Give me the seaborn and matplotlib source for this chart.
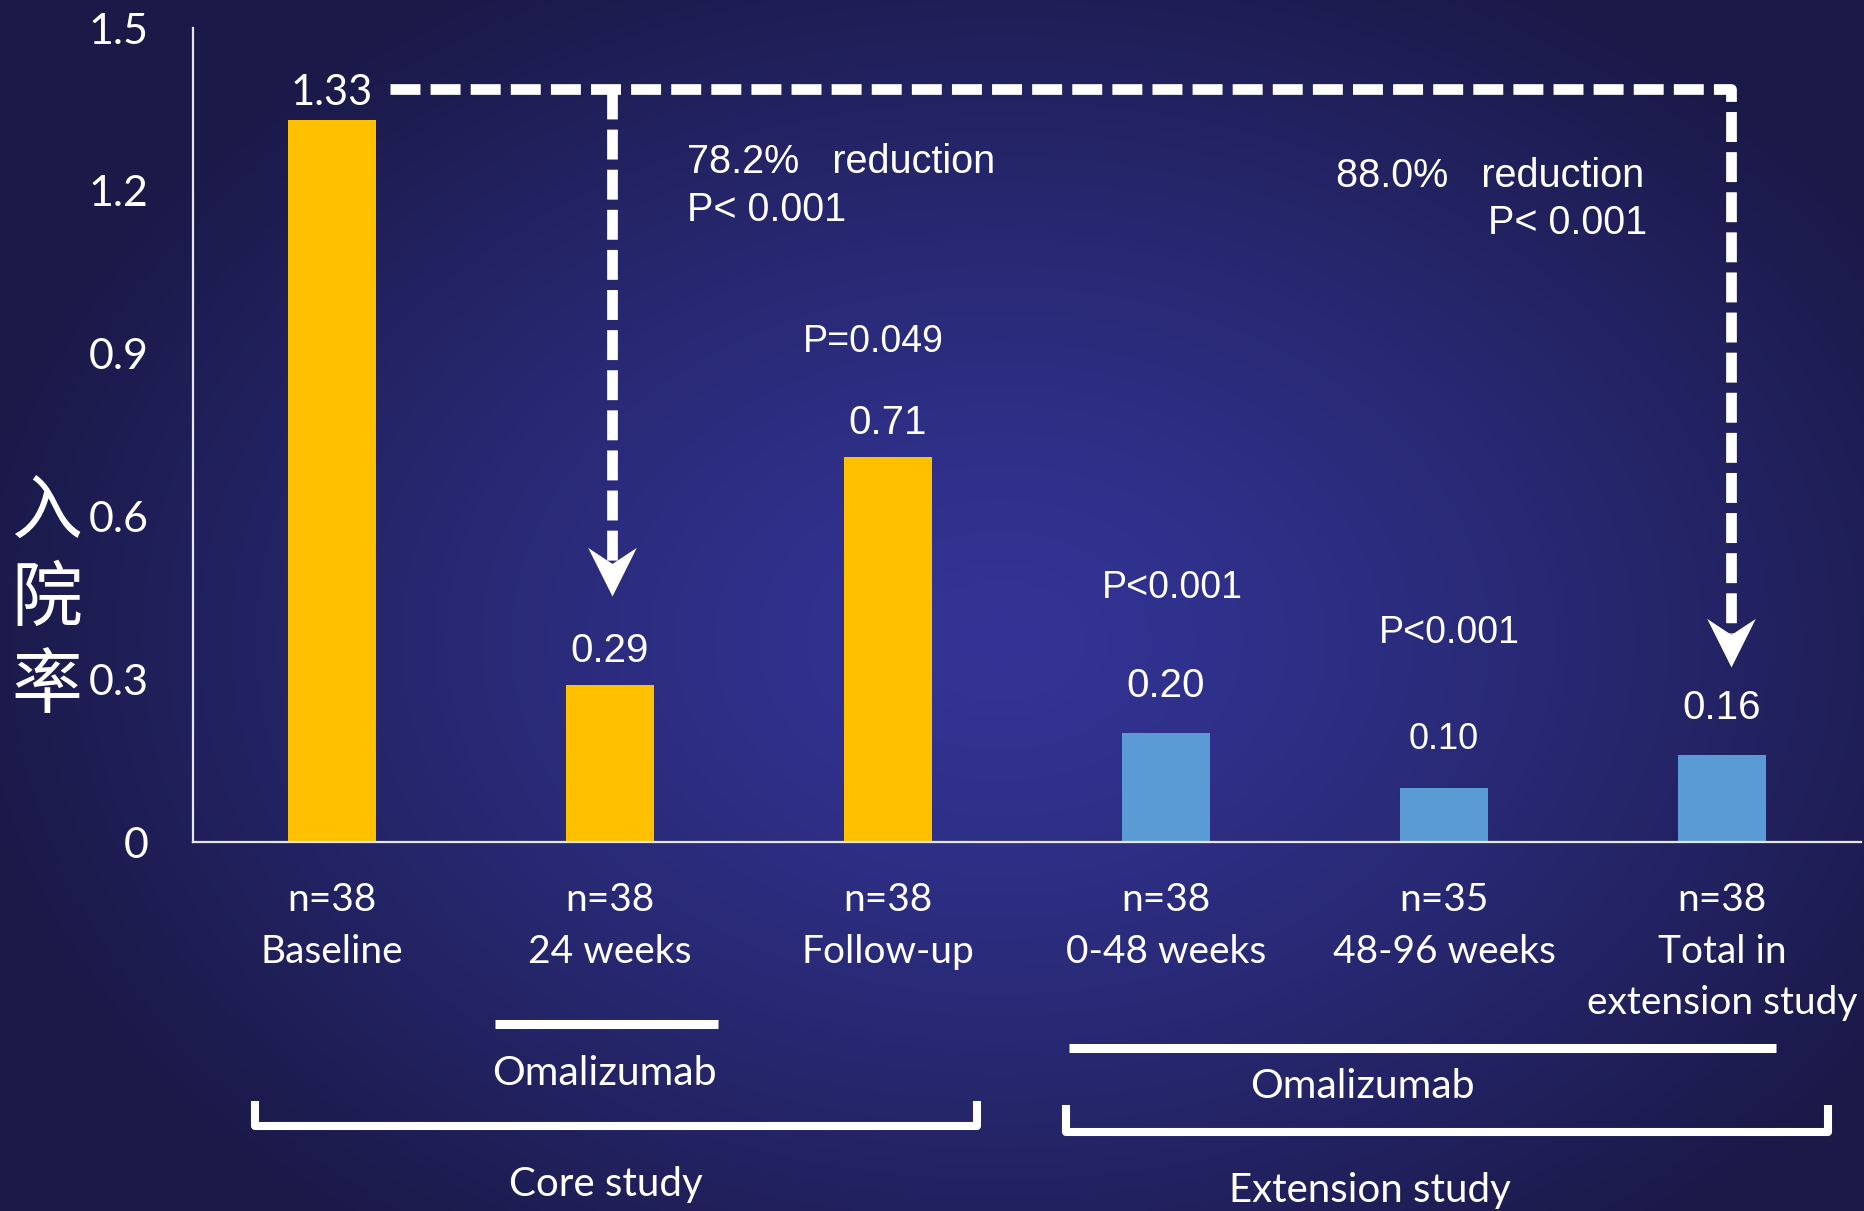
import numpy as np
import pandas as pd
import matplotlib
matplotlib.use("Agg")
import matplotlib.pyplot as plt
from matplotlib.path import Path
from matplotlib.transforms import blended_transform_factory
import seaborn as sns

# ---- data -------------------------------------------------------------
periods = ["Baseline", "24 weeks", "Follow-up", "0-48 weeks", "48-96 weeks",
           "Total in\nextension study"]
n_patients = [38, 38, 38, 38, 35, 38]
rates = [1.33, 0.29, 0.71, 0.20, 0.10, 0.16]
study = ["Core", "Core", "Core", "Extension", "Extension", "Extension"]
p_labels = ["P=0.049", "P<0.001", "P<0.001"]
yticks = [0, 0.3, 0.6, 0.9, 1.2, 1.5]
ytick_labels = ["0", "0.3", "0.6", "0.9", "1.2", "1.5"]
reduction_text = ["78.2%   reduction", "88.0%   reduction"]
reduction_p = ["P< 0.001", "P< 0.001"]

# ---- style ------------------------------------------------------------
sns.set_style("white")
plt.rcParams["font.family"] = ["Lato", "DejaVu Sans"]
ARIAL = ["Liberation Sans", "DejaVu Sans"]
CJK = ["Noto Sans CJK SC", "DejaVu Sans"]
WHITE = "white"
palette = {"Core": "#FFC000", "Extension": "#5B9BD5"}

W, H, DPI = 1864, 1211, 100
fig = plt.figure(figsize=(W / DPI, H / DPI), dpi=DPI)

# radial blue background
bg = fig.add_axes([0, 0, 1, 1], zorder=-10)
yy, xx = np.mgrid[0:H, 0:W]
d = np.sqrt(((xx - 1000) / 1050.0) ** 2 + ((yy - 640) / 760.0) ** 2)
t = np.clip(d, 0, 1) ** 1.3
inner = np.array([0x33, 0x34, 0x95]) / 255.0
outer = np.array([0x1a, 0x19, 0x47]) / 255.0
img = inner[None, None, :] * (1 - t[..., None]) + outer[None, None, :] * t[..., None]
bg.imshow(img, aspect="auto", extent=[0, 1, 0, 1])
bg.axis("off")

ax = fig.add_axes([193 / W, 1 - 842 / H, (1861 - 193) / W, (842 - 28) / H])
ax.set_facecolor("none")

df = pd.DataFrame({
    "label": [f"n={n}\n{p}" for n, p in zip(n_patients, periods)],
    "rate": rates,
    "study": study,
})
sns.barplot(data=df, x="label", y="rate", hue="study", palette=palette,
            dodge=False, width=0.317, legend=False, saturation=1,
            edgecolor="none", linewidth=0, ax=ax)

ax.set_xlim(-0.5, 5.5)
ax.set_ylim(0, 1.5)
ax.set_xlabel("")
ax.set_ylabel("")
ax.set_yticks(yticks)
ax.set_yticklabels(ytick_labels)
for s in ["top", "right"]:
    ax.spines[s].set_visible(False)
for s in ["left", "bottom"]:
    ax.spines[s].set_color("#e6e6e6")
    ax.spines[s].set_linewidth(1.6)
ax.tick_params(axis="y", direction="in", length=11, width=1.2, color="#cfcfcf",
               labelcolor=WHITE, labelsize=31, pad=32)
ax.tick_params(axis="x", length=0, labelcolor=WHITE, labelsize=28, pad=29)
for lab in ax.get_xticklabels():
    lab.set_linespacing(1.53)

# y-axis title, one character per row
for k, ch in enumerate("入院率"):
    fig.text(47 / W, 1 - (512 + 87 * k) / H, ch, ha="center", va="center",
             fontsize=51, fontweight="medium", family=CJK, color=WHITE)

# value labels above bars
val_offsets = [11, 16, 16, 26, 28, 26]
val_sizes = [30, 29, 29, 29, 26, 29]
for i, v in enumerate(rates):
    ax.annotate(f"{v:.2f}", (i, v), xytext=(0, val_offsets[i]),
                textcoords="offset points", ha="center", va="baseline",
                color=WHITE, fontsize=val_sizes[i],
                family=(None if i == 0 else ARIAL))

# p-value labels between bars
p_pos = [(1.946, 0.903), (3.022, 0.450), (4.018, 0.367)]
for (px, py), txt in zip(p_pos, p_labels):
    ax.text(px, py, txt, ha="center", va="baseline", color=WHITE,
            fontsize=27, family=ARIAL)

# comparison brackets: dashed lines from baseline level down to targets
level = 1.3876
dash = (0, (2.8, 0.95))
lw = 7.7
ax.plot([0.209, 5.032, 5.032], [level, level, 0.3225 + 0.06], color=WHITE,
        lw=lw, linestyle=dash, solid_joinstyle="round", clip_on=False)
ax.plot([1.007, 1.007], [level, 0.453 + 0.06], color=WHITE, lw=lw,
        linestyle=dash)
head = Path([(0, 0), (-0.5, 1), (0, 0.67), (0.5, 1), (0, 0)],
            [Path.MOVETO, Path.LINETO, Path.LINETO, Path.LINETO, Path.CLOSEPOLY])
ax.plot([1.007, 5.032], [0.453, 0.3225], linestyle="none", marker=head,
        markersize=70, color=WHITE, markeredgewidth=0)

ax.text(1.277, 1.2328, reduction_text[0], ha="left", va="baseline",
        color=WHITE, fontsize=28.5, family=ARIAL)
ax.text(1.277, 1.1443, reduction_p[0], ha="left", va="baseline",
        color=WHITE, fontsize=28.5, family=ARIAL)
ax.text(3.612, 1.207, reduction_text[1], ha="left", va="baseline",
        color=WHITE, fontsize=28.5, family=ARIAL)
ax.text(4.730, 1.1204, reduction_p[1], ha="right", va="baseline",
        color=WHITE, fontsize=28.5, family=ARIAL)

# treatment bars and study brackets below the axis
tr = blended_transform_factory(ax.transData, fig.transFigure)
fy = lambda py: 1 - py / H
seg_lw = 6.5
ax.plot([0.586, 1.389], [fy(1024), fy(1024)], color=WHITE, lw=seg_lw,
        transform=tr, clip_on=False, solid_capstyle="butt")
ax.plot([2.651, 5.194], [fy(1048), fy(1048)], color=WHITE, lw=seg_lw,
        transform=tr, clip_on=False, solid_capstyle="butt")
ax.plot([-0.277, -0.277, 2.32, 2.32], [fy(1101), fy(1126), fy(1126), fy(1101)],
        color=WHITE, lw=5.8, transform=tr, clip_on=False, solid_capstyle="butt")
ax.plot([2.64, 2.64, 5.38, 5.38], [fy(1105), fy(1132), fy(1132), fy(1105)],
        color=WHITE, lw=5.8, transform=tr, clip_on=False, solid_capstyle="butt")

ax.text(0.98, fy(1085), "Omalizumab", transform=tr, ha="center",
        va="baseline", color=WHITE, fontsize=29.5)
ax.text(3.705, fy(1098), "Omalizumab", transform=tr, ha="center",
        va="baseline", color=WHITE, fontsize=29.5)
ax.text(0.985, fy(1196), "Core study", transform=tr, ha="center",
        va="baseline", color=WHITE, fontsize=29)
ax.text(3.733, fy(1202), "Extension study", transform=tr, ha="center",
        va="baseline", color=WHITE, fontsize=29)

fig.savefig("out.png", dpi=DPI)
